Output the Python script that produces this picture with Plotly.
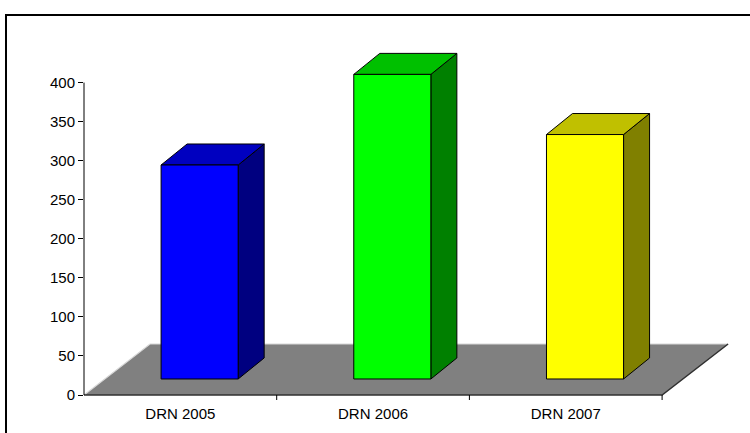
import plotly.graph_objects as go

# Data
categories = ["DRN 2005", "DRN 2006", "DRN 2007"]
values = [274, 390, 313]
y_ticks = [0, 50, 100, 150, 200, 250, 300, 350, 400]

# Face colours for each column: front, top, side
front_colors = ["#0000FF", "#00FF00", "#FFFF00"]
top_colors = ["#0000C0", "#00C000", "#C0C000"]
side_colors = ["#000080", "#008000", "#808000"]

# Pseudo-3D geometry (axis units)
FLOOR_DX, FLOOR_DY = 0.3425, 65.3      # depth of the floor
BAR_OX, BAR_OY = 0.10, 20.5            # offset of a column's front face from the floor front
BAR_DX, BAR_DY = 0.135, 26.9           # depth of each column
HALF_W = 0.2

# Plot area in pixels
W, H = 750, 433
L, R_EDGE, T, B_EDGE = 84, 740, 15, 400
PX_PER_X = 192.7
PX_PER_Y = 0.781
x_lo = -0.5
x_hi = x_lo + (R_EDGE - L) / PX_PER_X
y_lo = -(B_EDGE - 395) / PX_PER_Y
y_hi = (395 - T) / PX_PER_Y

fig = go.Figure()


def poly(xs, ys, fill, line_color="black", width=1):
    fig.add_trace(go.Scatter(
        x=xs + [xs[0]], y=ys + [ys[0]], mode="lines", fill="toself",
        fillcolor=fill, line=dict(color=line_color, width=width),
        hoverinfo="skip", showlegend=False))


# Floor
n = len(categories)
fx0, fx1 = -0.5, n - 0.5
poly([fx0, fx1, fx1 + FLOOR_DX, fx0 + FLOOR_DX], [0, 0, FLOOR_DY, FLOOR_DY],
     "#808080", line_color="#808080", width=0)
# floor highlights and front edge
fig.add_trace(go.Scatter(x=[fx0, fx0 + FLOOR_DX, fx1 + FLOOR_DX], y=[0, FLOOR_DY, FLOOR_DY],
                         mode="lines", line=dict(color="#D8D8D8", width=1.2),
                         hoverinfo="skip", showlegend=False))
fig.add_trace(go.Scatter(x=[fx0, fx1, fx1 + FLOOR_DX], y=[0, 0, FLOOR_DY],
                         mode="lines", line=dict(color="#303030", width=1.5),
                         hoverinfo="skip", showlegend=False))

# Columns
for i, v in enumerate(values):
    xl = i + BAR_OX - HALF_W
    xr = i + BAR_OX + HALF_W
    yb = BAR_OY
    yt = BAR_OY + v
    # side face
    poly([xr, xr + BAR_DX, xr + BAR_DX, xr], [yb, yb + BAR_DY, yt + BAR_DY, yt], side_colors[i])
    # top face
    poly([xl, xr, xr + BAR_DX, xl + BAR_DX], [yt, yt, yt + BAR_DY, yt + BAR_DY], top_colors[i])
    # front face
    poly([xl, xr, xr, xl], [yb, yb, yt, yt], front_colors[i])

# Category boundary tick marks below the floor front edge
for b in [i + 0.5 for i in range(n)]:
    fig.add_shape(type="line", xref="x", yref="y", x0=b, x1=b, y0=0, y1=-5 / PX_PER_Y,
                  line=dict(color="black", width=1))

# Value axis line
fig.add_shape(type="line", xref="paper", yref="y", x0=0, x1=0, y0=0, y1=y_ticks[-1],
              line=dict(color="black", width=1))

# Chart frame
pw, ph = R_EDGE - L, B_EDGE - T
fig.add_shape(type="rect", xref="paper", yref="paper",
              x0=(6 - L) / pw, x1=(W + 20 - L) / pw,
              y0=(B_EDGE - (H + 20)) / ph, y1=1.0,
              line=dict(color="black", width=2), fillcolor="rgba(0,0,0,0)", layer="below")

font = dict(family="Liberation Sans, Arial, sans-serif", size=15, color="black")

fig.update_layout(
    width=W, height=H,
    margin=dict(l=L, r=W - R_EDGE, t=T, b=H - B_EDGE),
    paper_bgcolor="white", plot_bgcolor="white",
    font=font,
    xaxis=dict(range=[x_lo, x_hi], tickvals=list(range(n)), ticktext=categories,
               showgrid=False, zeroline=False, showline=False, ticks="",
               ticklabelstandoff=3, tickfont=font, fixedrange=True),
    yaxis=dict(range=[y_lo, y_hi], tickvals=y_ticks, ticktext=[str(t) for t in y_ticks],
               showgrid=False, zeroline=False, showline=False, ticks="outside",
               ticklen=5, tickcolor="black", tickwidth=1, tickfont=font, fixedrange=True),
)

fig.write_html("out.html")
